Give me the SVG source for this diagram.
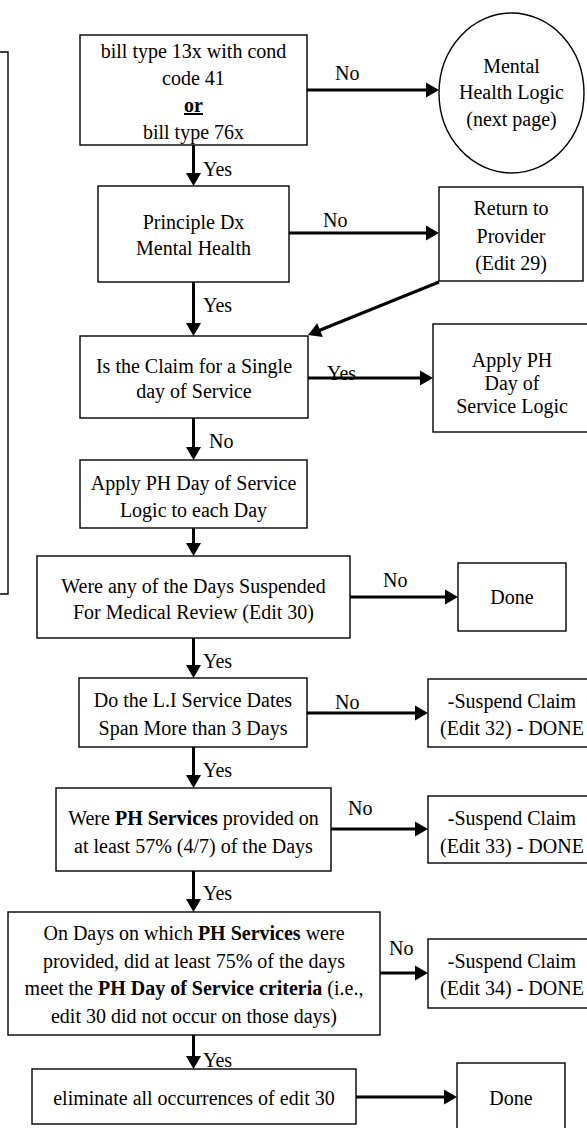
<svg xmlns="http://www.w3.org/2000/svg" width="587" height="1128" viewBox="0 0 587 1128">
<style>
  .box{fill:#fff;stroke:#000;stroke-width:1.4}
  text{font-family:'Liberation Serif','DejaVu Serif',serif;font-size:20px;fill:#000}
  .t{text-anchor:middle}
  .c{stroke:#000;stroke-width:3;fill:none;marker-end:url(#ah)}
  .b{font-weight:bold}
</style>
<defs>
  <marker id="ah" markerUnits="userSpaceOnUse" markerWidth="14" markerHeight="15" refX="5" refY="7.5" orient="auto" overflow="visible">
    <path d="M0,0 L13,7.5 L0,15 z" fill="#000"/>
  </marker>
</defs>
<rect width="587" height="1128" fill="#fff"/>

<g id="left-box">
  <path d="M0,52 H8 V594 H0" fill="none" stroke="#000" stroke-width="1.4"/>
</g>

<g id="connectors" font-family="Liberation Serif, DejaVu Serif, serif">
  <line class="c" x1="193.5" y1="145" x2="193.5" y2="178"/>
  <line class="c" x1="307" y1="90" x2="431" y2="90"/>
  <line class="c" x1="289" y1="233" x2="431" y2="233"/>
  <line class="c" x1="439" y1="282" x2="315.4" y2="332"/>
  <line class="c" x1="193.5" y1="282" x2="193.5" y2="328"/>
  <line class="c" x1="308" y1="378" x2="425" y2="378"/>
  <line class="c" x1="193.5" y1="418" x2="193.5" y2="452"/>
  <line class="c" x1="193.5" y1="528" x2="193.5" y2="548"/>
  <line class="c" x1="350" y1="597" x2="450" y2="597"/>
  <line class="c" x1="193.5" y1="638" x2="193.5" y2="670"/>
  <line class="c" x1="307" y1="713" x2="420" y2="713"/>
  <line class="c" x1="193.5" y1="747" x2="193.5" y2="780"/>
  <line class="c" x1="331" y1="829" x2="420" y2="829"/>
  <line class="c" x1="193.5" y1="871" x2="193.5" y2="904"/>
  <line class="c" x1="380" y1="973" x2="420" y2="973"/>
  <line class="c" x1="193.5" y1="1035" x2="193.5" y2="1061"/>
  <line class="c" x1="356" y1="1097" x2="449" y2="1097"/>
  <text x="203" y="176">Yes</text>
  <text x="335" y="80">No</text>
  <text x="323" y="227">No</text>
  <text x="203" y="312">Yes</text>
  <text x="327" y="380">Yes</text>
  <text x="209" y="448">No</text>
  <text x="383" y="587">No</text>
  <text x="203" y="668">Yes</text>
  <text x="335" y="709">No</text>
  <text x="203" y="777">Yes</text>
  <text x="348" y="815">No</text>
  <text x="203" y="900">Yes</text>
  <text x="389" y="955">No</text>
  <text x="203" y="1067">Yes</text>
</g>

<g id="n-billtype">
  <rect class="box" x="80" y="35" width="227" height="110"/>
  <text class="t" x="193.5" y="58">bill type 13x with cond</text>
  <text class="t" x="193.5" y="85">code 41</text>
  <text class="t b" x="193.5" y="112" text-decoration="underline">or</text>
  <text class="t" x="193.5" y="139">bill type 76x</text>
</g>

<g id="n-mental">
  <ellipse cx="511.5" cy="93" rx="72.5" ry="80" fill="#fff" stroke="#000" stroke-width="1.4"/>
  <text class="t" x="511.5" y="73">Mental</text>
  <text class="t" x="511.5" y="99">Health Logic</text>
  <text class="t" x="511.5" y="126">(next page)</text>
</g>

<g id="n-principle">
  <rect class="box" x="98" y="186" width="191" height="96"/>
  <text class="t" x="193.5" y="229">Principle Dx</text>
  <text class="t" x="193.5" y="255">Mental Health</text>
</g>

<g id="n-return">
  <rect class="box" x="439" y="187" width="144" height="94"/>
  <text class="t" x="511" y="215">Return to</text>
  <text class="t" x="511" y="243">Provider</text>
  <text class="t" x="511" y="270">(Edit 29)</text>
</g>

<g id="n-single">
  <rect class="box" x="80" y="336" width="228" height="82"/>
  <text class="t" x="194" y="373">Is the Claim for a Single</text>
  <text class="t" x="194" y="398">day of Service</text>
</g>

<g id="n-applyph">
  <rect class="box" x="433" y="324" width="160" height="108"/>
  <text class="t" x="512" y="367">Apply PH</text>
  <text class="t" x="512" y="390">Day of</text>
  <text class="t" x="512" y="413">Service Logic</text>
</g>

<g id="n-applyeach">
  <rect class="box" x="80" y="460" width="227" height="68"/>
  <text class="t" x="193.5" y="490">Apply PH Day of Service</text>
  <text class="t" x="193.5" y="517">Logic to each Day</text>
</g>

<g id="n-suspended">
  <rect class="box" x="37" y="556" width="313" height="82"/>
  <text class="t" x="193.5" y="593">Were any of the Days Suspended</text>
  <text class="t" x="193.5" y="619">For Medical Review (Edit 30)</text>
</g>

<g id="n-done1">
  <rect class="box" x="458" y="563" width="108" height="68"/>
  <text class="t" x="512" y="604">Done</text>
</g>

<g id="n-span">
  <rect class="box" x="79" y="678" width="228" height="69"/>
  <text class="t" x="193" y="707">Do the L.I Service Dates</text>
  <text class="t" x="193" y="735">Span More than 3 Days</text>
</g>

<g id="n-edit32">
  <rect class="box" x="428" y="679" width="168" height="68"/>
  <text class="t" x="512" y="708">-Suspend Claim</text>
  <text class="t" x="512" y="735">(Edit 32) - DONE</text>
</g>

<g id="n-57">
  <rect class="box" x="56" y="788" width="275" height="83"/>
  <text class="t" x="193.5" y="825">Were <tspan class="b">PH Services</tspan> provided on</text>
  <text class="t" x="193.5" y="853">at least 57% (4/7) of the Days</text>
</g>

<g id="n-edit33">
  <rect class="box" x="428" y="796" width="168" height="67"/>
  <text class="t" x="512" y="825">-Suspend Claim</text>
  <text class="t" x="512" y="853">(Edit 33) - DONE</text>
</g>

<g id="n-75">
  <rect class="box" x="8" y="912" width="372" height="123"/>
  <text class="t" x="194" y="940">On Days on which <tspan class="b">PH Services</tspan> were</text>
  <text class="t" x="194" y="968">provided, did at least 75% of the days</text>
  <text class="t" x="194" y="995">meet the <tspan class="b">PH Day of Service criteria</tspan> (i.e.,</text>
  <text class="t" x="194" y="1023">edit 30 did not occur on those days)</text>
</g>

<g id="n-edit34">
  <rect class="box" x="428" y="939" width="168" height="69"/>
  <text class="t" x="512" y="968">-Suspend Claim</text>
  <text class="t" x="512" y="995">(Edit 34) - DONE</text>
</g>

<g id="n-eliminate">
  <rect class="box" x="32" y="1069" width="324" height="55"/>
  <text class="t" x="194" y="1105">eliminate all occurrences of edit 30</text>
</g>

<g id="n-done2">
  <rect class="box" x="457" y="1063" width="108" height="70"/>
  <text class="t" x="511" y="1105">Done</text>
</g>
</svg>
